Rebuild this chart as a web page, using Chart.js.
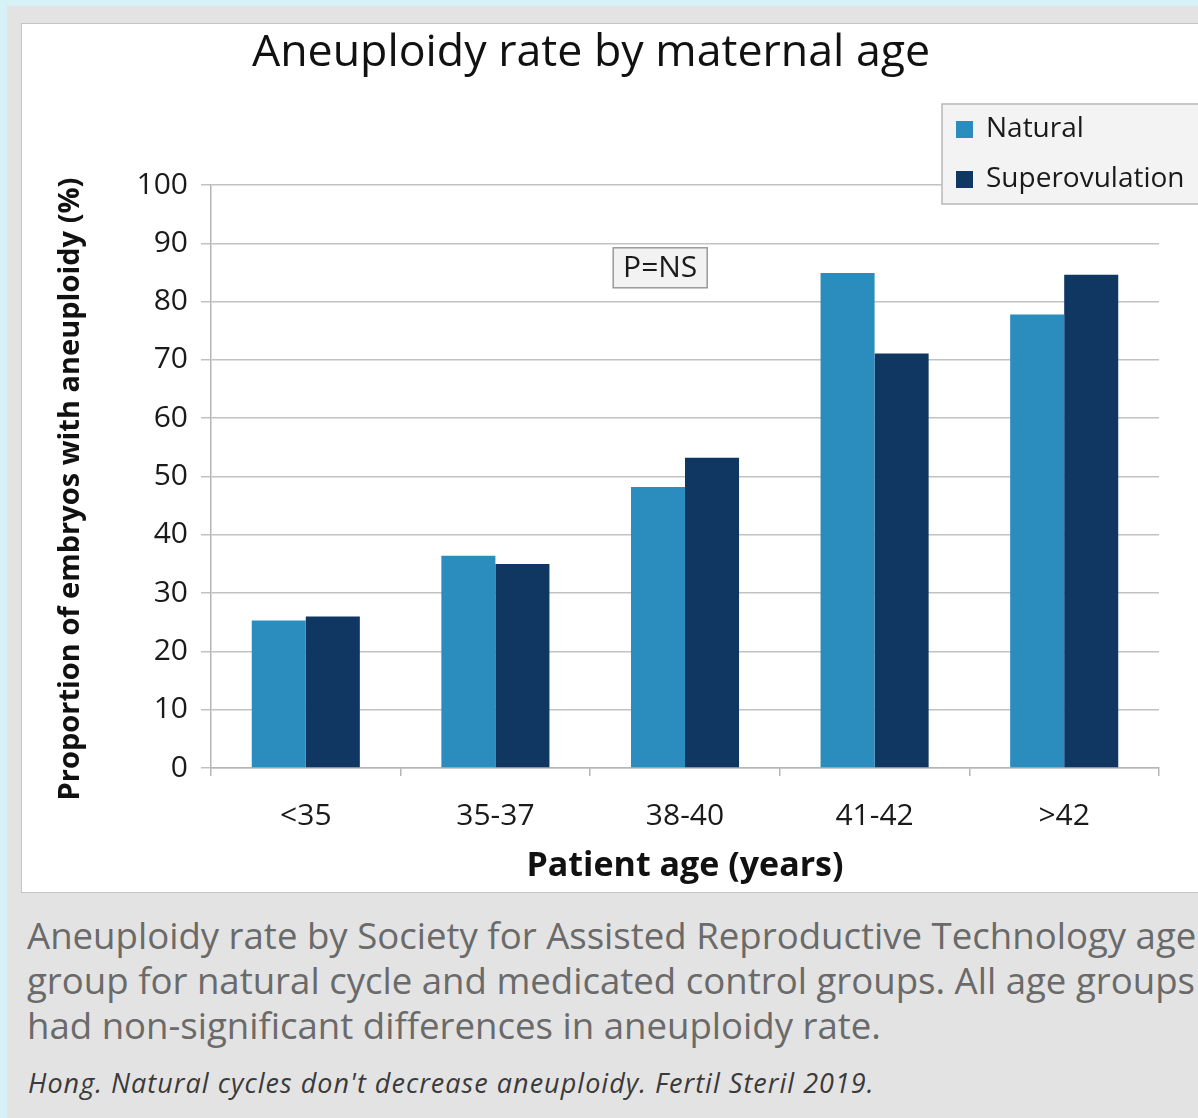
<!DOCTYPE html>
<html><head><meta charset="utf-8">
<script src="https://cdn.jsdelivr.net/npm/chart.js@4.4.1/dist/chart.umd.min.js"></script>
<style>
html,body{margin:0;padding:0;}
body{width:1198px;height:1118px;background:#d7f2f7;position:relative;overflow:hidden;font-family:"Open Sans",sans-serif;}
#panel{position:absolute;left:7px;top:6px;width:1200px;height:1120px;background:#e3e3e3;}
#box{position:absolute;left:21px;top:23px;width:1190px;height:868px;background:#fff;border:1px solid #c4c4c4;}
#cv{position:absolute;left:0;top:0;}
#cap{position:absolute;left:27px;top:913px;width:1190px;font-size:36.6px;line-height:45px;color:#6a6a6a;white-space:nowrap;}
#src{position:absolute;left:28px;top:1064px;font-size:27px;letter-spacing:1.02px;font-style:italic;color:#3a3a3a;white-space:nowrap;}
</style></head>
<body>
<div id="panel"></div>
<div id="box"><canvas id="cv" width="1177" height="868"></canvas></div>
<div id="cap">Aneuploidy rate by Society for Assisted Reproductive Technology age<br>group for natural cycle and medicated control groups. All age groups<br>had non-significant differences in aneuploidy rate.</div>
<div id="src">Hong. Natural cycles don't decrease aneuploidy. Fertil Steril 2019.</div>
<script>
const categories = ['<35','35-37','38-40','41-42','>42'];
const naturalValues = [25.3, 36.4, 48.2, 84.9, 77.8];
const superovulationValues = [26.0, 35.0, 53.2, 71.1, 84.6];
const seriesNames = ['Natural','Superovulation'];
const seriesColors = ['#2b8dbd','#0f3762'];
const chartTitle = 'Aneuploidy rate by maternal age';
const yTitle = 'Proportion of embryos with aneuploidy (%)';
const xTitle = 'Patient age (years)';
const annotationText = 'P=NS';

const FONT = '"Open Sans", sans-serif';

const overlay = {
  id:'overlay',
  afterDraw(chart){
    const ctx = chart.ctx;
    ctx.save();
    // title
    ctx.fillStyle = '#111';
    ctx.font = '44.7px ' + FONT;
    ctx.textAlign = 'center';
    ctx.textBaseline = 'middle';
    ctx.fillText(chartTitle, 569, 29);
    // y title
    ctx.save();
    ctx.translate(49, 465);
    ctx.rotate(-Math.PI/2);
    ctx.font = 'bold 29px ' + FONT;
    ctx.fillStyle = '#111';
    ctx.fillText(yTitle, 0, 0);
    ctx.restore();
    // legend
    const lx = 920, ly = 80, lw = 270, lh = 100;
    ctx.fillStyle = '#f3f3f3';
    ctx.fillRect(lx, ly, lw, lh);
    ctx.strokeStyle = '#b8b8b8';
    ctx.lineWidth = 1.5;
    ctx.strokeRect(lx, ly, lw, lh);
    ctx.font = '28px ' + FONT;
    ctx.textAlign = 'left';
    chart.data.datasets.forEach((ds, i) => {
      const cy = ly + 25 + i * 50;
      ctx.fillStyle = ds.backgroundColor;
      ctx.fillRect(lx + 14, cy - 8, 17, 17);
      ctx.fillStyle = '#1a1a1a';
      ctx.fillText(ds.label, lx + 44, cy);
    });
    // P=NS annotation
    const xs = chart.scales.x, ys = chart.scales.y;
    const cx = (xs.getPixelForValue(1) + xs.getPixelForValue(2)) / 2 + 70;
    const cyy = ys.getPixelForValue(85.8);
    const bw = 94, bh = 40;
    ctx.fillStyle = '#f2f2f2';
    ctx.fillRect(cx - bw/2, cyy - bh/2, bw, bh);
    ctx.strokeStyle = '#9a9a9a';
    ctx.lineWidth = 1.5;
    ctx.strokeRect(cx - bw/2, cyy - bh/2, bw, bh);
    ctx.fillStyle = '#1a1a1a';
    ctx.font = '30px ' + FONT;
    ctx.textAlign = 'center';
    ctx.fillText(annotationText, cx, cyy + 1);
    ctx.restore();
  }
};

new Chart(document.getElementById('cv'), {
  type: 'bar',
  data: {
    labels: categories,
    datasets: [
      {label: seriesNames[0], data: naturalValues, backgroundColor: seriesColors[0]},
      {label: seriesNames[1], data: superovulationValues, backgroundColor: seriesColors[1]}
    ]
  },
  options: {
    responsive: false,
    animation: false,
    devicePixelRatio: 1,
    layout: {padding: {left: 0, right: 40, top: 161, bottom: 0}},
    datasets: {bar: {barPercentage: 1.0, categoryPercentage: 0.57}},
    plugins: {legend: {display: false}, title: {display: false}, tooltip: {enabled: false}},
    scales: {
      x: {
        afterFit(s){ s.height = 124; },
        grid: {drawOnChartArea: false, drawTicks: true, tickLength: 8, offset: true, color: '#b5b5b5', lineWidth: 1.5},
        border: {display: true, color: '#b5b5b5', width: 1.5},
        ticks: {color: '#1a1a1a', font: {family: FONT, size: 30}, padding: 22},
        title: {display: true, text: xTitle, color: '#111', font: {family: FONT, size: 34, weight: 'bold'}, padding: {top: 0, bottom: 5}}
      },
      y: {
        min: 0, max: 100,
        afterFit(s){ s.width = 189; },
        grid: {color: '#c2c2c2', lineWidth: 1.5, tickLength: 10},
        border: {display: true, color: '#b5b5b5', width: 1.5},
        ticks: {stepSize: 10, color: '#1a1a1a', font: {family: FONT, size: 30}, padding: 13},
        title: {display: false}
      }
    }
  },
  plugins: [overlay]
});
</script>
</body></html>
